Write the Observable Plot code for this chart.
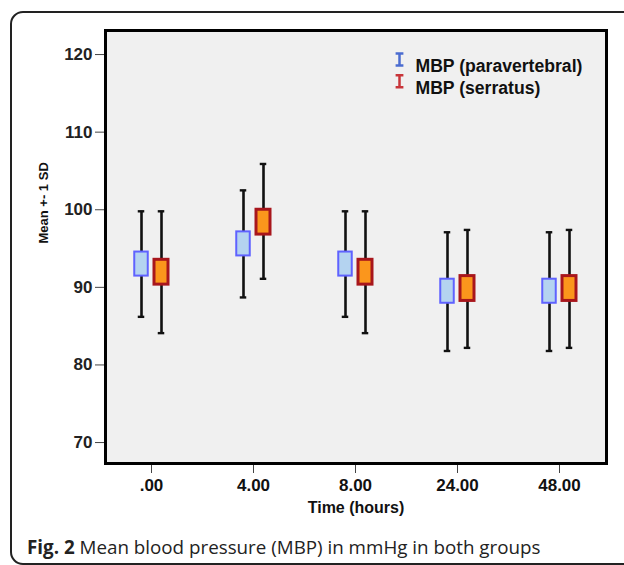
<!DOCTYPE html>
<html><head><meta charset="utf-8">
<script src="https://cdn.jsdelivr.net/npm/d3@7"></script>
<script src="https://cdn.jsdelivr.net/npm/@observablehq/plot@0.6"></script>
<style>
html,body{margin:0;padding:0;width:624px;height:565px;overflow:hidden;background:#fff;}
#panel{position:absolute;left:10px;top:11px;width:700px;height:550px;border:2px solid #222;border-radius:13px;}
#chart{position:absolute;left:0;top:0;}
#caption{position:absolute;left:27px;top:534px;font-family:"Open Sans",sans-serif;font-size:18.8px;color:#222;white-space:nowrap;}
</style></head><body>
<div id="panel"></div>
<div id="chart"></div>
<div id="caption"><b>Fig. 2</b> Mean blood pressure (MBP) in mmHg in both groups</div>
<script>
const times = [".00","4.00","8.00","24.00","48.00"];
const groups = ["MBP (paravertebral)","MBP (serratus)"];
const paraMean = [93.0, 95.6, 93.0, 89.5, 89.5];
const paraLow = [86.2, 88.7, 86.2, 81.8, 81.8];
const paraHigh = [99.8, 102.5, 99.8, 97.1, 97.1];
const paraBoxLow = [91.45, 94.05, 91.45, 87.95, 87.95];
const paraBoxHigh = [94.55, 97.15, 94.55, 91.05, 91.05];
const serrMean = [91.95, 98.4, 91.95, 89.85, 89.85];
const serrLow = [84.1, 91.1, 84.1, 82.2, 82.2];
const serrHigh = [99.8, 105.9, 99.8, 97.4, 97.4];
const serrBoxLow = [90.35, 96.8, 90.35, 88.25, 88.25];
const serrBoxHigh = [93.55, 100.0, 93.55, 91.45, 91.45];
const yTicks = [70, 80, 90, 100, 110, 120];

const para = times.map((t, i) => ({time: t, mean: paraMean[i], low: paraLow[i], high: paraHigh[i], boxLow: paraBoxLow[i], boxHigh: paraBoxHigh[i]}));
const serr = times.map((t, i) => ({time: t, mean: serrMean[i], low: serrLow[i], high: serrHigh[i], boxLow: serrBoxLow[i], boxHigh: serrBoxHigh[i]}));

const FONT = "Liberation Sans";

const ibeam = {
  draw(ctx, size) {
    const r = Math.sqrt(size / Math.PI);
    const w = r * 0.65;
    ctx.moveTo(-w, -r); ctx.lineTo(w, -r);
    ctx.moveTo(0, -r); ctx.lineTo(0, r);
    ctx.moveTo(-w, r); ctx.lineTo(w, r);
  }
};

function whiskers(data, dx) {
  return [
    Plot.ruleX(data, {x: "time", y1: "low", y2: "high", dx, stroke: "#111", strokeWidth: 2.6}),
    Plot.tickY(data, {x: "time", y: "low", dx, insetLeft: 47.75, insetRight: 47.75, stroke: "#111", strokeWidth: 2.4}),
    Plot.tickY(data, {x: "time", y: "high", dx, insetLeft: 47.75, insetRight: 47.75, stroke: "#111", strokeWidth: 2.4})
  ];
}

const chart = Plot.plot({
  width: 624, height: 530,
  marginLeft: 105, marginRight: 18, marginTop: 30, marginBottom: 67,
  style: {fontFamily: FONT, background: "transparent", color: "#111"},
  x: {type: "band", domain: times, range: [98.75, 611.25], padding: 0},
  y: {domain: [67.3, 123.1]},
  marks: [
    Plot.frame({fill: "#f0f0f0"}),
    ...whiskers(para, -10),
    ...whiskers(serr, 10),
    Plot.barY(para, {x: "time", y1: "boxLow", y2: "boxHigh", dx: -10, insetLeft: 44.25, insetRight: 44.25, fill: "#b4d3f0", stroke: "#5f62ff", strokeWidth: 2}),
    Plot.barY(serr, {x: "time", y1: "boxLow", y2: "boxHigh", dx: 10, insetLeft: 44, insetRight: 44, fill: "#fb961c", stroke: "#a8161c", strokeWidth: 3}),
    Plot.axisY({ticks: yTicks, tickSize: 10, tickPadding: 3, fontSize: 17, fontFamily: FONT, fontWeight: "bold", label: null, stroke: "#444", fill: "#222"}),
    Plot.axisX({tickSize: 10, tickPadding: 5, fontSize: 17, fontFamily: FONT, fontWeight: "bold", label: null, stroke: "#444", fill: "#111"}),
    Plot.frame({stroke: "#000", strokeWidth: 3}),
    Plot.text(["Time (hours)"], {frameAnchor: "bottom", dy: 49, fontSize: 16, fontFamily: FONT, fontWeight: "bold", fill: "#111"}),
    Plot.text(["Mean +- 1 SD"], {frameAnchor: "left", dx: -62, dy: -3.5, rotate: -90, fontSize: 13, fontFamily: FONT, fontWeight: "bold", fill: "#111"}),
    Plot.dot([groups[0]], {frameAnchor: "top-left", dx: 294, dy: 29, symbol: ibeam, r: 6, fill: "none", stroke: "#4b6cd0", strokeWidth: 2.5}),
    Plot.dot([groups[1]], {frameAnchor: "top-left", dx: 294, dy: 50.7, symbol: ibeam, r: 6, fill: "none", stroke: "#c8353a", strokeWidth: 2.5}),
    Plot.text([groups[0]], {frameAnchor: "top-left", dx: 310, dy: 29, textAnchor: "start", fontSize: 17.6, fontFamily: FONT, fontWeight: "bold", fill: "#111"}),
    Plot.text([groups[1]], {frameAnchor: "top-left", dx: 310, dy: 50.7, textAnchor: "start", fontSize: 17.6, fontFamily: FONT, fontWeight: "bold", fill: "#111"})
  ]
});
document.getElementById("chart").appendChild(chart);
</script>
</body></html>
